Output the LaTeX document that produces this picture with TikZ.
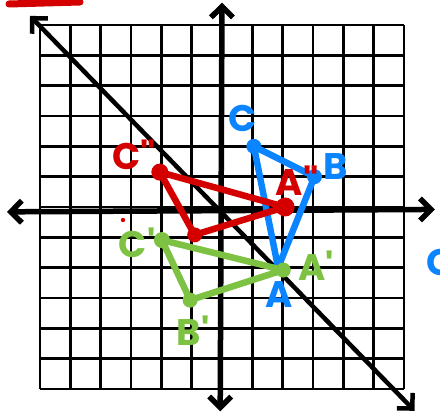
\documentclass[tikz,border=0pt]{standalone}
\usepackage{fontspec}
\newfontfamily\hand{Poppins}
\usetikzlibrary{arrows.meta}
\definecolor{bl}{HTML}{0A84FF}
\definecolor{rd}{HTML}{D40000}
\definecolor{gr}{HTML}{7DC242}
\tikzset{
  gridline/.style={line width=2.5pt,black},
  axisline/.style={line width=5.5pt,black,line cap=round,line join=round,
    {Straight Barb[length=11pt,width=22pt]}-{Straight Barb[length=11pt,width=22pt]}},
  diagline/.style={line width=4.5pt,black,line cap=round,line join=round,
    {Straight Barb[length=11pt,width=22pt]}-{Straight Barb[length=11pt,width=22pt]}},
  tri/.style={line width=6.5pt,line cap=round,line join=round},
  vdot/.style={circle,inner sep=0pt,minimum size=15pt,fill=#1},
  lab/.style={text=#1,font=\hand\bfseries\fontsize{37}{37}\selectfont,inner sep=0pt}
}
\begin{document}
\begin{tikzpicture}[x=1pt,y=-1pt]
\useasboundingbox[fill=white] (0,0) rectangle (440,417);
% red stroke at top
\coordinate (rs1) at (9,4);
\coordinate (rs2) at (80,2);
\draw[rd,line width=7pt,line cap=round] (rs1) -- (rs2);
% small red dot
\fill[rd] (123,220) circle (2.2pt);
% blue C partly off the page
\node[lab=bl,anchor=west] (cedge) at (426,262) {C};
\begin{scope}[shift={(222,207)},x=30.33pt,y=30.33pt]
  \draw[gridline,step={(1,1)}] (-6,-6) grid (6,6);
  \coordinate (xl) at (-7.09,-0.16);
  \coordinate (xr) at (7.02,-0.08);
  \coordinate (yt) at (0,6.74);
  \coordinate (yb) at (-0.06,-6.74);
  \coordinate (dl) at (-6.33,6.3);
  \coordinate (dr) at (6.35,-6.72);
  \draw[axisline] (xl) -- (xr);
  \draw[axisline] (yb) -- (yt);
  \draw[diagline] (dl) -- (dr);
  % blue triangle ABC
  \coordinate (A) at (1.85,-2);
  \coordinate (B) at (3.05,1);
  \coordinate (C) at (1.05,2);
  \draw[tri,bl] (C) -- (B) -- (A) -- cycle;
  \node[vdot=bl] (Cd) at (C) {};
  \node[vdot=bl] (Bd) at (B) {};
  % red triangle A''B''C''
  \coordinate (A2) at (2.08,0);
  \coordinate (B2) at (-0.9,-0.92);
  \coordinate (C2) at (-2.05,1.15);
  \draw[tri,rd] (C2) -- (A2) -- (B2) -- cycle;
  \node[vdot=rd,minimum size=19pt] (A2d) at (A2) {};
  \node[vdot=rd] (B2d) at (B2) {};
  \node[vdot=rd,minimum size=17pt] (C2d) at (C2) {};
  % green triangle A'B'C'
  \coordinate (A1) at (2.02,-2.08);
  \coordinate (B1) at (-1.05,-3.07);
  \coordinate (C1) at (-1.98,-1.09);
  \draw[tri,gr] (C1) -- (A1) -- (B1) -- cycle;
  \node[vdot=gr] (A1d) at (A1) {};
  \node[vdot=gr] (B1d) at (B1) {};
  \node[vdot=gr,minimum size=16pt] (C1d) at (C1) {};
\end{scope}
% labels
\node[lab=bl] (lC) at (243,118) {C};
\node[lab=bl] (lB) at (336,167) {B};
\node[lab=bl] (lA) at (279,295) {A};
\node[lab=gr] (lA1) at (316,266) {A\textquotesingle};
\node[lab=gr] (lC1) at (137,243) {C\textquotesingle};
\node[lab=gr] (lB1) at (193,331) {B\textquotesingle};
\node[lab=rd] (lC2) at (134,155) {C\textquotedbl};
\node[lab=rd] (lA2) at (297,181) {A\textquotedbl};
\end{tikzpicture}
\end{document}
